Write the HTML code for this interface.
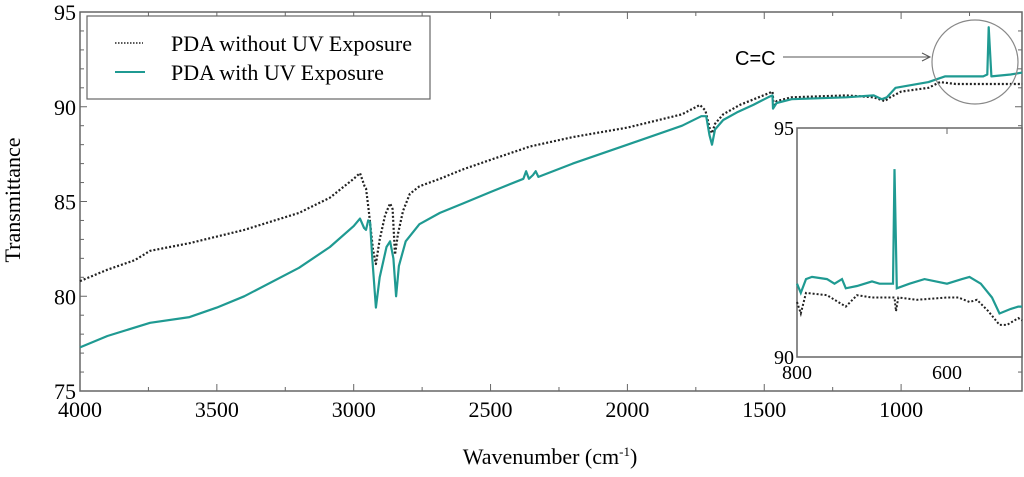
<!DOCTYPE html>
<html><head><meta charset="utf-8"><style>
html,body{margin:0;padding:0;background:#fff;}
svg{display:block;font-family:"Liberation Serif",serif;}
</style></head><body>
<svg id="chart" width="1024" height="477" viewBox="0 0 1024 477"></svg>
<script>
const mainWn = [4000,3900,3800,3744,3600,3400,3200,3087,3000,2977,2960,2955,2945,2930,2919,2905,2885,2867,2858,2849,2838,2820,2795,2760,2685,2600,2500,2356,2200,2000,1800,1735,1715,1700,1691,1680,1650,1589,1486,1470,1465,1455,1400,1200,1100,1060,1040,1000,900,858,800,700,558];
const mainNoUV = [80.8,81.4,81.9,82.4,82.8,83.5,84.4,85.2,86.2,86.5,85.8,85.7,84.5,82.5,81.7,83.0,84.3,84.9,84.6,82.2,83.3,84.5,85.4,85.8,86.2,86.7,87.2,87.9,88.4,88.9,89.6,90.1,89.8,88.9,88.6,89.1,89.6,90.1,90.7,90.8,90.0,90.3,90.5,90.6,90.5,90.3,90.5,90.8,91.0,91.3,91.2,91.2,91.2];
const mainWn2 = [4000,3900,3744,3600,3500,3400,3200,3087,3000,2977,2962,2955,2947,2940,2932,2919,2905,2880,2867,2855,2845,2835,2810,2760,2685,2600,2500,2380,2370,2360,2345,2335,2325,2200,2000,1800,1730,1712,1700,1691,1680,1650,1600,1540,1486,1470,1468,1455,1400,1200,1100,1070,1052,1020,900,860,840,700,685,680,670,600,558];
const mainUV = [77.3,77.9,78.6,78.9,79.4,80.0,81.5,82.6,83.7,84.1,83.6,83.5,84.0,83.9,82.0,79.4,81.0,82.6,82.9,82.0,80.0,81.6,82.9,83.8,84.4,84.9,85.5,86.2,86.6,86.2,86.4,86.6,86.3,87.0,88.0,89.0,89.5,89.5,88.5,88.0,88.8,89.3,89.7,90.1,90.5,90.6,89.9,90.2,90.4,90.5,90.6,90.4,90.5,91.0,91.3,91.5,91.6,91.6,91.7,94.2,91.6,91.7,91.8];
const insetWnUV = [800,795,788,780,760,750,740,735,720,700,690,672,670,667,650,630,600,580,570,555,540,530,515,505,500];
const insetUV = [91.6,91.4,91.7,91.75,91.7,91.6,91.7,91.5,91.55,91.65,91.6,91.6,94.1,91.5,91.6,91.7,91.6,91.7,91.75,91.6,91.3,90.95,91.05,91.1,91.1];
const insetWnNo = [800,795,788,760,735,720,700,670,668,665,640,600,585,570,560,545,530,520,505,500];
const insetNoUV = [91.2,90.95,91.4,91.35,91.1,91.35,91.3,91.3,91.0,91.3,91.25,91.3,91.3,91.2,91.25,91.0,90.7,90.7,90.85,90.8];
const xTicks = [4000,3500,3000,2500,2000,1500,1000];
const yTicks = [75,80,85,90,95];
const insetXTicks = [800,600];
const insetYTicks = [90,95];

const NS="http://www.w3.org/2000/svg";
const svg=document.getElementById('chart');
function mk(t,a,p){const e=document.createElementNS(NS,t);for(const k in a)e.setAttribute(k,a[k]);(p||svg).appendChild(e);return e;}
const L=80,R=1022,T=12,B=391;
const X0=4000,X1=4000-(R-L)/0.2737;
const sx=w=>L+(X0-w)/(X0-X1)*(R-L);
const sy=v=>B-(v-75)/20*(B-T);
const IL=797,IR=1022,IT=128,IB=357;
const isx=w=>IL+(800-w)/300*(IR-IL);
const isy=v=>IB-(v-90)/5*(IB-IT);

let f=mk('rect',{x:L,y:T,width:R-L,height:B-T,fill:'none',stroke:'#666','stroke-width':1.5});

for(let w=4000;w>X1;w-=250){const x=sx(w),len=(w%500===0)?7:4;
 mk('line',{x1:x,x2:x,y1:B,y2:B-len,stroke:'#666'});mk('line',{x1:x,x2:x,y1:T,y2:T+len,stroke:'#666'});}
for(let v=75;v<=95;v++){const y=sy(v),len=(v%5===0)?7:4;
 mk('line',{x1:L,x2:L+len,y1:y,y2:y,stroke:'#666'});mk('line',{x1:R,x2:R-len,y1:y,y2:y,stroke:'#666'});}
xTicks.forEach(w=>{const t=mk('text',{x:sx(w),y:B+26,'text-anchor':'middle','font-size':22});t.textContent=w;
 });
yTicks.forEach(v=>{const t=mk('text',{x:L-4,y:sy(v)+8,'text-anchor':'end','font-size':22});t.textContent=v;
 });
let xt=mk('text',{x:550,y:464,'text-anchor':'middle','font-size':22});
xt.innerHTML='Wavenumber (cm<tspan dy="-8" font-size="13">-1</tspan><tspan dy="8">)</tspan>';

let yt=mk('text',{x:0,y:0,'text-anchor':'middle','font-size':22,transform:'translate(20,200) rotate(-90)'});
yt.textContent='Transmittance';


function path(xs,ys,fx,fy){return xs.map((w,i)=>(i?'L':'M')+fx(w).toFixed(1)+','+fy(ys[i]).toFixed(1)).join('');}
let p1=mk('path',{d:path(mainWn,mainNoUV,sx,sy),fill:'none',stroke:'#222','stroke-width':2.2,'stroke-dasharray':'2 2','stroke-linejoin':'round'});

let p2=mk('path',{d:path(mainWn2,mainUV,sx,sy),fill:'none',stroke:'#1f9a92','stroke-width':2.2,'stroke-linejoin':'round'});


let lg=mk('g',{});
mk('rect',{x:87,y:16,width:343,height:83,fill:'#fff',stroke:'#666','stroke-width':1.2},lg);
mk('line',{x1:115,x2:143,y1:43,y2:43,stroke:'#222','stroke-width':1.5,'stroke-dasharray':'1.5 1.5'},lg);
mk('line',{x1:115,x2:145,y1:72,y2:72,stroke:'#1f9a92','stroke-width':2},lg);
let t1=mk('text',{x:171,y:51,'font-size':22},lg);t1.textContent='PDA without UV Exposure';

let t2=mk('text',{x:171,y:80,'font-size':22},lg);t2.textContent='PDA with UV Exposure';


let c=mk('ellipse',{cx:975,cy:62,rx:43,ry:42,fill:'none',stroke:'#888','stroke-width':1.2});

mk('line',{x1:783,x2:930,y1:57,y2:57,stroke:'#555','stroke-width':1});
mk('path',{d:'M922,53 L930,57 L922,61',fill:'none',stroke:'#555','stroke-width':1});
let cc=mk('text',{x:735,y:65,'font-size':20,'font-family':'Liberation Sans, sans-serif'});cc.textContent='C=C';


let ig=mk('g',{});
mk('rect',{x:IL,y:IT,width:IR-IL,height:IB-IT,fill:'#fff',stroke:'#666','stroke-width':1.5},ig);
insetXTicks.forEach(w=>{mk('line',{x1:isx(w),x2:isx(w),y1:IT,y2:IT+6,stroke:'#666'},ig);
 const t=mk('text',{x:isx(w),y:IB+22,'text-anchor':'middle','font-size':20},ig);t.textContent=w;
 });
insetYTicks.forEach(v=>{const t=mk('text',{x:IL-3,y:isy(v)+7,'text-anchor':'end','font-size':20},ig);t.textContent=v;
 });
let ip1=mk('path',{d:path(insetWnNo,insetNoUV,isx,isy),fill:'none',stroke:'#222','stroke-width':2,'stroke-dasharray':'2 2'},ig);

let ip2=mk('path',{d:path(insetWnUV,insetUV,isx,isy),fill:'none',stroke:'#1f9a92','stroke-width':2.2},ig);

</script>
</body></html>
